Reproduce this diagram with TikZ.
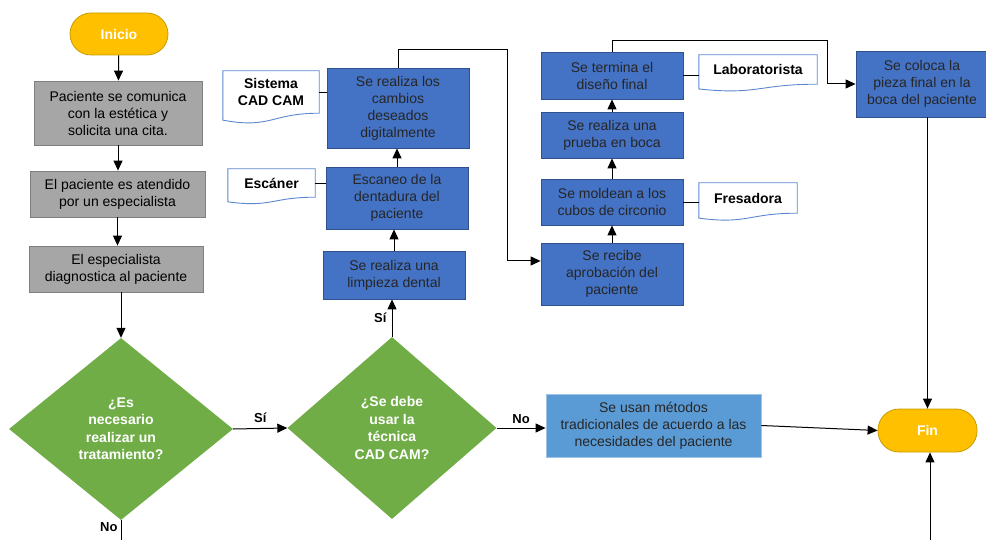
\documentclass[tikz,border=0pt]{standalone}
\usepackage{fontspec}
\setmainfont{Liberation Sans}
\usetikzlibrary{shapes.geometric,arrows.meta}
\definecolor{naranja}{HTML}{FFC000}
\definecolor{naranjaborde}{HTML}{C89B00}
\definecolor{gris}{HTML}{A6A6A6}
\definecolor{grisborde}{HTML}{7F7F7F}
\definecolor{azul}{HTML}{4472C4}
\definecolor{azulborde}{HTML}{2F528F}
\definecolor{celeste}{HTML}{5B9BD5}
\definecolor{verde}{HTML}{70AD47}
\definecolor{docborde}{HTML}{5B87D0}
\begin{document}
\begin{tikzpicture}[x=1pt,y=-1pt,
every node/.style={font=\fontsize{14}{17}\selectfont,align=center,inner sep=0pt},
terminal/.style={rectangle,rounded corners=21pt,fill=naranja,draw=naranjaborde,line width=0.8pt,text=white,font=\fontsize{14}{17}\selectfont\bfseries,minimum height=42pt},
paso/.style={rectangle,fill=gris,draw=grisborde,line width=0.8pt},
proceso/.style={rectangle,fill=azul,draw=azulborde,line width=0.8pt,text=black!85},
decision/.style={diamond,fill=verde,text=white,font=\fontsize{14}{17.5}\selectfont\bfseries},
docu/.style={rectangle,font=\fontsize{14}{17}\selectfont\bfseries},
docline/.style={draw=docborde,line width=0.9pt},
flecha/.style={line width=1pt,-{Triangle[length=10pt,width=9pt]}},
linea/.style={line width=0.9pt},
etq/.style={font=\fontsize{13}{16}\selectfont\bfseries}
]
\useasboundingbox (0,0) rectangle (986,540);

% columna izquierda
\node[terminal,minimum width=98pt] (inicio) at (119,34) {Inicio};
\node[paso,minimum width=168pt,minimum height=64pt] (comunica) at (118,113) {Paciente se comunica\\con la estética y\\solicita una cita.};
\node[paso,minimum width=175pt,minimum height=46pt] (atiende) at (117.5,194) {El paciente es atendido\\por un especialista};
\node[paso,minimum width=174pt,minimum height=46pt] (diagnostica) at (116,269) {El especialista\\diagnostica al paciente};
\node[decision,minimum width=224pt,minimum height=182pt] (dtrat) at (121,429) {¿Es\\necesario\\realizar un\\tratamiento?};

% columna CAD CAM
\node[decision,minimum width=209pt,minimum height=182pt] (dcad) at (392,428) {¿Se debe\\usar la\\técnica\\CAD CAM?};
\node[proceso,minimum width=142pt,minimum height=48pt] (limpieza) at (394,275) {Se realiza una\\limpieza dental};
\node[proceso,minimum width=142pt,minimum height=62pt] (escaneo) at (397,198) {Escaneo de la\\dentadura del\\paciente};
\node[proceso,minimum width=142pt,minimum height=80pt] (cambios) at (398,108) {Se realiza los\\cambios\\deseados\\digitalmente};
\node[docu,minimum width=96pt,minimum height=42pt] (sistema) at (271,92) {Sistema\\CAD CAM};
\node[docu,minimum width=87pt,minimum height=28pt] (escaner) at (271.5,183) {Escáner};

% columna laboratorio
\node[proceso,minimum width=142pt,minimum height=62pt] (recibe) at (612,274) {Se recibe\\aprobación del\\paciente};
\node[proceso,minimum width=142pt,minimum height=46pt] (moldea) at (612,202) {Se moldean a los\\cubos de circonio};
\node[proceso,minimum width=142pt,minimum height=46pt] (prueba) at (612,135) {Se realiza una\\prueba en boca};
\node[proceso,minimum width=142pt,minimum height=47pt] (termina) at (612,75.5) {Se termina el\\diseño final};
\node[docu,minimum width=118pt,minimum height=29pt] (labor) at (758,69.5) {Laboratorista};
\node[docu,minimum width=98pt,minimum height=30pt] (fresa) at (748,198) {Fresadora};
\node[proceso,minimum width=132pt,minimum height=66pt] (coloca) at (922,84) {Se coloca la\\pieza final en la\\boca del paciente};

% salida
\node[proceso,fill=celeste,draw=celeste!60!white,minimum width=215pt,minimum height=63pt] (usan) at (653.5,425.5) {Se usan métodos\\tradicionales de acuerdo a las\\necesidades del paciente};
\node[terminal,minimum width=99pt,minimum height=43pt] (fin) at (927.5,430.5) {Fin};

% documentos
\foreach \d/\h in {sistema/42,escaner/28,labor/29,fresa/30}
  \draw[docline] (\d.north west) -- (\d.north east) -- (\d.south east)
    .. controls (\d.south) and ([yshift={-0.38*\h*1pt}]\d.south) .. ([yshift={-0.165*\h*1pt}]\d.south west) -- cycle;

\coordinate (k1) at (507,50);
\coordinate (k2) at (827,41);
\coordinate (abajo1) at (121,540);
\coordinate (abajo2) at (930,540);

% conexiones
\draw[flecha] (inicio) -- (comunica);
\draw[flecha] (comunica.south) -- (comunica.south |- atiende.north);
\draw[flecha] (atiende.south) -- (atiende.south |- diagnostica.north);
\draw[flecha] (dtrat.north |- diagnostica.south) -- (dtrat.north);
\draw[flecha] (dtrat.east) -- node[etq,above=5pt] {Sí} (dcad.west);
\draw[linea] (dtrat.south) -- node[etq,pos=0.35,left=3pt] {No} (abajo1);
\draw[flecha] (dcad.north) -- node[etq,left=5pt] {Sí} (dcad.north |- limpieza.south);
\draw[flecha] (limpieza.north) -- (limpieza.north |- escaneo.south);
\draw[flecha] (escaneo.north) -- (escaneo.north |- cambios.south);
\draw[linea] (sistema.east) -- (sistema.east -| cambios.west);
\draw[linea] (escaner.east) -- (escaner.east -| escaneo.west);
\draw[flecha] (cambios.north) |- (k1) |- ([yshift=13pt]recibe.west);
\draw[flecha] (recibe.north) -- (moldea.south);
\draw[flecha] (moldea.north) -- (prueba.south);
\draw[flecha] (prueba.north) -- (termina.south);
\draw[linea] (termina.east) -- (termina.east -| labor.west);
\draw[linea] (moldea.east) -- (moldea.east -| fresa.west);
\draw[flecha] (termina.north) |- (k2) |- (coloca.west);
\draw[flecha] (fin.north |- coloca.south) -- (fin.north);
\draw[flecha] (dcad.east) -- node[etq,above=4pt] {No} (dcad.east -| usan.west);
\draw[flecha] (usan.east) -- (fin.west);
\draw[flecha] (abajo2) -- (abajo2 |- fin.south);
\end{tikzpicture}
\end{document}
